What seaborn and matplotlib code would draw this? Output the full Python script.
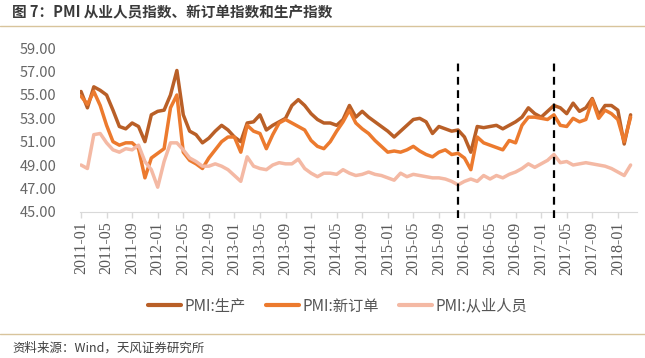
import numpy as np
import pandas as pd
import matplotlib
matplotlib.use("Agg")
import matplotlib.pyplot as plt
from matplotlib.lines import Line2D
import seaborn as sns

# monthly data, 2011-01 .. 2018-03
months = pd.period_range("2011-01", periods=87, freq="M").strftime("%Y-%m").tolist()

production = [55.3, 53.9, 55.7, 55.4, 55.0, 53.7, 52.3, 52.1, 52.6, 52.3,
              51.0, 53.3, 53.6, 53.7, 55.0, 57.1, 53.3, 51.9, 51.6, 50.9,
              51.3, 51.9, 52.4, 52.0, 51.4, 51.0, 52.6, 52.7, 53.3, 52.0,
              52.4, 52.7, 53.0, 54.1, 54.6, 54.1, 53.4, 52.9, 52.6, 52.6,
              52.4, 52.9, 54.1, 53.1, 53.6, 53.1, 52.7, 52.3, 51.9, 51.4,
              51.9, 52.4, 52.9, 53.0, 52.7, 51.7, 52.3, 52.1, 51.9, 52.0,
              51.4, 50.1, 52.3, 52.2, 52.3, 52.4, 52.1, 52.4, 52.7, 53.1,
              53.9, 53.4, 53.1, 53.6, 54.1, 53.9, 53.4, 54.3, 53.6, 53.9,
              54.7, 53.3, 54.1, 54.1, 53.7, 50.8, 53.3]

new_orders = [54.9, 54.2, 55.3, 54.1, 52.4, 51.0, 50.7, 50.9, 50.9, 50.4,
              47.9, 49.6, 50.0, 50.4, 53.9, 55.0, 50.1, 49.4, 49.1, 48.7,
              49.6, 50.3, 51.0, 51.4, 51.4, 50.1, 52.4, 51.9, 51.7, 50.4,
              51.6, 52.6, 52.9, 52.6, 52.3, 52.0, 51.1, 50.6, 50.4, 51.0,
              51.9, 52.7, 53.7, 52.6, 52.1, 51.7, 51.1, 50.6, 50.1, 50.2,
              50.1, 50.3, 50.6, 50.2, 49.9, 49.7, 50.1, 50.3, 49.9, 50.0,
              49.6, 48.6, 51.4, 50.9, 50.7, 50.5, 50.3, 51.1, 50.9, 52.4,
              53.1, 53.1, 53.0, 52.9, 53.3, 52.4, 52.3, 53.0, 52.7, 52.9,
              54.6, 53.0, 53.7, 53.4, 52.9, 51.0, 53.1]

employment = [49.0, 48.7, 51.6, 51.7, 50.9, 50.3, 50.1, 50.4, 50.3, 50.7,
              49.3, 48.6, 47.1, 49.3, 50.9, 50.9, 50.3, 49.6, 49.3, 48.9,
              48.9, 49.1, 48.9, 48.6, 48.1, 47.6, 49.7, 48.9, 48.7, 48.6,
              49.0, 49.2, 49.1, 49.1, 49.5, 48.7, 48.3, 48.0, 48.3, 48.3,
              48.2, 48.6, 48.3, 48.1, 48.2, 48.4, 48.2, 48.1, 47.9, 47.7,
              48.3, 48.0, 48.2, 48.1, 48.0, 47.9, 47.9, 47.8, 47.6, 47.3,
              47.6, 47.8, 47.6, 48.1, 47.8, 48.1, 47.9, 48.2, 48.4, 48.7,
              49.1, 48.8, 49.1, 49.4, 49.9, 49.2, 49.3, 49.0, 49.1, 49.2,
              49.1, 49.0, 48.9, 48.7, 48.4, 48.1, 49.0]

series_names = ["PMI:生产", "PMI:新订单", "PMI:从业人员"]
series_colors = ["#B95F27", "#EC7A2E", "#F4B9A4"]
marker_months = ["2015-12", "2017-03"]

sns.set_style("white")
plt.rcParams["font.family"] = ["Noto Sans CJK SC", "DejaVu Sans"]

df = pd.DataFrame({"month": months * 3,
                   "pos": list(range(len(months))) * 3,
                   "value": production + new_orders + employment,
                   "series": np.repeat(series_names, len(months))})

fig = plt.figure(figsize=(6.45, 3.58), dpi=100)
ax = fig.add_axes([80 / 645, 1 - 211.7 / 358, 557 / 645, 163.4 / 358])

sns.lineplot(data=df, x="pos", y="value", hue="series", hue_order=series_names,
             palette=series_colors, linewidth=2.5, ax=ax, legend=False)

for m in marker_months:
    ax.vlines(months.index(m), 44.45, 58.1, colors="black", linestyles=(0, (3.5, 2.5)),
              linewidth=1.6, clip_on=False, zorder=5)

ax.set_xlim(-0.16, 87.0)
ax.set_ylim(45, 59)
ax.set_yticks(np.arange(45, 60, 2))
ax.set_yticklabels([f"{v:.2f}" for v in np.arange(45, 60, 2)], fontsize=10.5, color="#666666")
tick_pos = list(range(0, len(months), 4))
ax.set_xticks(tick_pos)
ax.set_xticklabels([months[i] for i in tick_pos], rotation=90, fontsize=11.5,
                   color="#595959", family=["Liberation Serif", "DejaVu Sans"])
ax.tick_params(axis="x", length=4, color="#D9D9D9", width=1, pad=3, bottom=True)
ax.tick_params(axis="y", length=0, pad=17)
ax.set_xlabel("")
ax.set_ylabel("")
for s in ["top", "right", "left"]:
    ax.spines[s].set_visible(False)
ax.spines["bottom"].set_color("#D9D9D9")

handles = [Line2D([], [], color=c, lw=3) for c in series_colors]
fig.legend(handles, series_names, loc="center", bbox_to_anchor=(0.523, 1 - 306 / 358),
           ncol=3, frameon=False, fontsize=11, handlelength=2.2, handletextpad=0.2,
           columnspacing=1.3, labelcolor="#555555")

fig.text(12 / 645, 1 - 12 / 358, "图 7：PMI 从业人员指数、新订单指数和生产指数",
         fontsize=10.5, fontweight="bold", color="#3A3A3A", va="center", ha="left")
fig.add_artist(Line2D([0, 1], [1 - 26 / 358] * 2, transform=fig.transFigure,
                      color="#D8C49C", lw=1))
fig.add_artist(Line2D([0, 1], [1 - 334 / 358] * 2, transform=fig.transFigure,
                      color="#D8C49C", lw=1))
fig.text(12 / 645, 1 - 348 / 358, "资料来源：Wind，天风证券研究所",
         fontsize=9, color="#404040", va="center", ha="left")

fig.savefig("out.png", dpi=100)
